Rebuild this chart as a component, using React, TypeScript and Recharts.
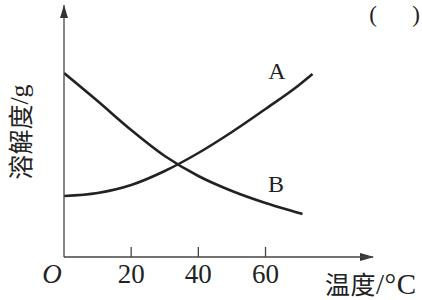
import { LineChart, Line, XAxis, YAxis, ReferenceDot, Customized } from 'recharts';

// temperature (°C) and solubility (arbitrary g scale)
const TEMPS_A = [0, 10, 20, 30, 40, 50, 60, 70, 74];
const SOL_A = [61, 64, 72, 86, 104, 125, 148, 172, 183];
const TEMPS_B = [0, 10, 20, 30, 40, 50, 60, 70, 71];
const SOL_B = [184, 156, 127, 101, 81, 66, 54, 44, 43];

const X_TICKS = [0, 20, 40, 60];
const X_MAX = 92;
const Y_MAX = 252;

const LABEL_A = { t: 63.4, v: 187, text: 'A' };
const LABEL_B = { t: 63.1, v: 74, text: 'B' };

const dataA = TEMPS_A.map((t, i) => ({ t, s: SOL_A[i] }));
const dataB = TEMPS_B.map((t, i) => ({ t, s: SOL_B[i] }));

const SERIF = "'Liberation Serif', 'Times New Roman', 'Noto Sans CJK SC', serif";
const CJK = "'Noto Sans CJK SC', 'Liberation Serif', serif";
const INK = '#222';

const XTick = (props: any) => {
  const { x, y, payload } = props;
  if (payload.value === 0) {
    return (
      <text x={x - 12} y={y + 26} textAnchor="middle" fontFamily={SERIF} fontStyle="italic" fontSize={27} fill={INK}>
        O
      </text>
    );
  }
  return (
    <g>
      <line x1={x} y1={y} x2={x} y2={y - 10} stroke="#444" strokeWidth={1.3} />
      <text x={x} y={y + 26} textAnchor="middle" fontFamily={SERIF} fontSize={27} fill={INK}>
        {payload.value}
      </text>
    </g>
  );
};

const Extras = () => (
  <g>
    <defs>
      <marker id="arrowUp" markerUnits="userSpaceOnUse" markerWidth={14} markerHeight={8} refX={13} refY={4} orient="auto-start-reverse">
        <path d="M0,0 L13,4 L0,8 z" fill="#333" />
      </marker>
    </defs>
    {/* x axis arrowhead */}
    <path d="M374,257 L360,253 L360,261 z" fill="#333" />
    <text x={373} y={22} textAnchor="middle" fontFamily={SERIF} fontSize={23} fill={INK}>(</text>
    <text x={416} y={22} textAnchor="middle" fontFamily={SERIF} fontSize={23} fill={INK}>)</text>
    <text
      x={19}
      y={132}
      transform="rotate(-90 19 132)"
      textAnchor="middle"
      dominantBaseline="central"
      fontFamily={CJK}
      fontSize={25}
      fill={INK}
    >
      溶解度<tspan fontFamily={SERIF} fontSize={26}>/g</tspan>
    </text>
    <text x={325} y={294} fontFamily={CJK} fontSize={25} fill={INK} letterSpacing={0.5}>
      温度<tspan fontFamily={SERIF} fontSize={29}>/°C</tspan>
    </text>
  </g>
);

export default function App() {
  return (
    <div style={{ position: 'absolute', left: 0, top: 0, width: 422, height: 300, background: '#fff' }}>
      <LineChart width={422} height={300} margin={{ top: 5, right: 49, left: 24, bottom: 13 }}>
        <XAxis
          type="number"
          dataKey="t"
          domain={[0, X_MAX]}
          ticks={X_TICKS}
          height={30}
          tickSize={0}
          tickMargin={0}
          tickLine={false}
          tick={<XTick />}
          axisLine={{ stroke: '#444', strokeWidth: 1.3 }}
          allowDataOverflow
        />
        <YAxis
          type="number"
          domain={[0, Y_MAX]}
          width={40}
          tick={false}
          tickLine={false}
          axisLine={{ stroke: '#444', strokeWidth: 1.3, markerStart: 'url(#arrowUp)' }}
          allowDataOverflow
        />
        <Line data={dataA} dataKey="s" type="monotone" stroke={INK} strokeWidth={2.6} dot={false} isAnimationActive={false} />
        <Line data={dataB} dataKey="s" type="monotone" stroke={INK} strokeWidth={2.6} dot={false} isAnimationActive={false} />
        {[LABEL_A, LABEL_B].map((l) => (
          <ReferenceDot
            key={l.text}
            x={l.t}
            y={l.v}
            r={0}
            stroke="none"
            fill="none"
            label={{ value: l.text, position: 'center', fontFamily: SERIF, fontSize: 24, fill: INK }}
          />
        ))}
        <Customized component={Extras} />
      </LineChart>
    </div>
  );
}
